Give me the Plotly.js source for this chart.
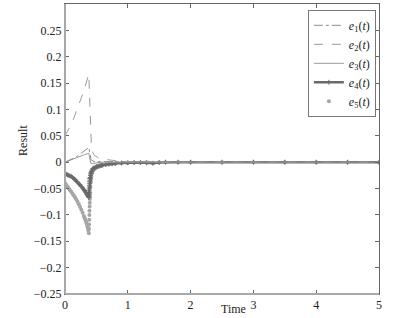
<!DOCTYPE html>
<html>
<head>
<meta charset="utf-8">
<script src="https://cdn.plot.ly/plotly-3.0.1.min.js"></script>
<style>html,body{margin:0;padding:0;background:#fff;}#chart{width:393px;height:318px;}</style>
</head>
<body>
<div id="chart"></div>
<script>
const time = [0,0.02,0.04,0.06,0.08,0.10,0.12,0.14,0.16,0.18,0.20,0.22,0.24,0.26,0.28,0.30,
  0.31,0.32,0.33,0.34,0.35,0.36,0.37,0.38,
  0.382,0.384,0.386,0.388,0.390,0.392,0.394,0.396,0.398,0.400,
  0.405,0.41,0.415,0.42,0.43,0.44,0.45,0.46,0.48,0.50,0.52,0.54,0.56,0.58,0.60,
  0.65,0.70,0.75,0.80,0.90,1.0,1.1,1.2,1.3,1.4,1.5,1.6,1.8,2.0,2.5,3.0,3.5,4.0,4.5,5.0];

const e1 = [0,0.001,0.002,0.003,0.004,0.005,0.006,0.0075,0.009,0.010,0.012,0.013,0.015,0.017,0.019,0.021,
  0.022,0.023,0.024,0.025,0.026,0.027,0.0275,0.028,
  0.026,0.024,0.022,0.020,0.018,0.016,0.0145,0.013,0.0115,0.010,
  0.008,0.006,0.005,0.004,0.003,0.002,0.0018,0.0015,0.001,0.001,0.0005,0.0005,0.0005,0.0005,0.0005,
  0,0,0,0,0,0,0,0,0,0,0,0,0,0,0,0,0,0,0,0];
const e2 = [0.050,0.054,0.058,0.062,0.067,0.072,0.077,0.083,0.089,0.095,0.101,0.108,0.115,0.122,0.129,0.137,
  0.141,0.145,0.149,0.152,0.156,0.160,0.164,0.167,
  0.158,0.150,0.140,0.130,0.120,0.110,0.101,0.092,0.083,0.075,
  0.058,0.045,0.037,0.030,0.022,0.018,0.016,0.014,0.012,0.010,0.009,0.008,0.007,0.0065,0.006,
  0.005,0.004,0.0035,0.003,0.002,0.001,0.0005,0.001,0.002,0.001,0,0,0,0,0,0,0,0,0,0];
const e3 = [0,0.001,0.002,0.003,0.004,0.0045,0.0055,0.0065,0.0075,0.008,0.009,0.010,0.011,0.012,0.013,0.014,
  0.0142,0.0145,0.0148,0.015,0.0155,0.016,0.0165,0.017,
  0.015,0.013,0.011,0.009,0.007,0.005,0.0035,0.002,0.001,0,
  -0.001,-0.002,-0.0025,-0.003,-0.003,-0.0025,-0.0022,-0.002,-0.0015,-0.001,-0.001,-0.0005,-0.0005,0,0,
  0,0,0,0,0,0,0,0,0,0,0,0,0,0,0,0,0,0,0,0];
const e4 = [-0.022,-0.023,-0.024,-0.025,-0.026,-0.027,-0.029,-0.031,-0.033,-0.036,-0.038,-0.041,-0.043,-0.046,-0.049,-0.052,
  -0.0535,-0.055,-0.057,-0.059,-0.061,-0.063,-0.065,-0.067,
  -0.062,-0.058,-0.053,-0.049,-0.045,-0.041,-0.037,-0.034,-0.031,-0.029,
  -0.025,-0.022,-0.020,-0.018,-0.015,-0.013,-0.012,-0.011,-0.0095,-0.0085,-0.008,-0.007,-0.0065,-0.006,-0.0055,
  -0.0045,-0.0035,-0.003,-0.0025,-0.0015,-0.001,-0.0005,-0.0005,-0.001,-0.002,-0.0005,0,0,0,0,0,0,0,0,0];
const e5 = [-0.040,-0.043,-0.046,-0.050,-0.053,-0.056,-0.060,-0.063,-0.067,-0.071,-0.075,-0.080,-0.085,-0.090,-0.096,-0.102,
  -0.105,-0.108,-0.111,-0.115,-0.119,-0.124,-0.129,-0.135,
  -0.126,-0.118,-0.109,-0.100,-0.092,-0.084,-0.077,-0.070,-0.064,-0.058,
  -0.047,-0.038,-0.032,-0.027,-0.021,-0.017,-0.0155,-0.014,-0.012,-0.010,-0.009,-0.008,-0.007,-0.0065,-0.006,
  -0.005,-0.004,-0.0035,-0.003,-0.002,-0.0015,-0.001,-0.001,-0.001,-0.002,-0.0005,0,0,0,0,0,0,0,0,0];

const seriesNames = ['<i>e</i><sub>1</sub>(<i>t</i>)','<i>e</i><sub>2</sub>(<i>t</i>)','<i>e</i><sub>3</sub>(<i>t</i>)','<i>e</i><sub>4</sub>(<i>t</i>)','<i>e</i><sub>5</sub>(<i>t</i>)'];
const yTickVals = [-0.25,-0.2,-0.15,-0.1,-0.05,0,0.05,0.1,0.15,0.2,0.25];
const yTickText = ['\u22120.25','\u22120.2','\u22120.15','\u22120.1','\u22120.05','0','0.05','0.1','0.15','0.2','0.25'];
const xTickVals = [0,1,2,3,4,5];
const xTickText = ['0','1','2','3','4','5'];

const F = 'Liberation Serif, Times New Roman, serif';

const traces = [
  {x: time, y: e5, name: seriesNames[4], legendrank: 5, mode: 'markers', type: 'scatter',
   marker: {symbol: 'circle', size: 4, color: '#a6a6a6', line: {width: 0}}},
  {x: time, y: e4, name: seriesNames[3], legendrank: 4, mode: 'lines+markers', type: 'scatter',
   line: {color: '#6a6a6a', width: 2.5}, marker: {symbol: 'cross-thin', size: 3.5, color: '#6a6a6a', line: {color: '#6a6a6a', width: 1}}},
  {x: time, y: e3, name: seriesNames[2], legendrank: 3, mode: 'lines', type: 'scatter',
   line: {color: '#9a9a9a', width: 1}},
  {x: time, y: e1, name: seriesNames[0], legendrank: 1, mode: 'lines', type: 'scatter',
   line: {color: '#8a8a8a', width: 1, dash: 'dashdot'}},
  {x: time, y: e2, name: seriesNames[1], legendrank: 2, mode: 'lines', type: 'scatter',
   line: {color: '#9a9a9a', width: 1, dash: 'dash'}}
];

const layout = {
  width: 393, height: 318,
  margin: {l: 65, r: 14, t: 4, b: 24, pad: 0},
  paper_bgcolor: '#fff', plot_bgcolor: '#fff',
  font: {family: F, size: 12, color: '#222'},
  showlegend: true,
  legend: {x: 0.99, xanchor: 'right', y: 0.98, yanchor: 'top', bgcolor: '#fff',
    bordercolor: '#777', borderwidth: 1, font: {family: F, size: 12, color: '#222'},
    tracegroupgap: 0, itemwidth: 30},
  xaxis: {range: [0, 5], tickvals: xTickVals, ticktext: xTickText, ticks: 'inside', ticklen: 4,
    tickcolor: '#666', showline: true, linecolor: '#666', linewidth: 1, mirror: 'ticks',
    showgrid: false, zeroline: false, tickfont: {family: F, size: 12, color: '#222'}},
  yaxis: {range: [-0.25, 0.3], tickvals: yTickVals, ticktext: yTickText, ticks: 'inside', ticklen: 4,
    tickcolor: '#666', showline: true, linecolor: '#666', linewidth: 1, mirror: 'ticks',
    showgrid: false, zeroline: false, tickfont: {family: F, size: 12, color: '#222'}},
  shapes: [
    {type: 'line', xref: 'paper', yref: 'paper', x0: 0, x1: 0, y0: 0, y1: 1, line: {color: '#a8a8a8', width: 2}},
    {type: 'line', xref: 'paper', yref: 'paper', x0: 0, x1: 1, y0: 0, y1: 0, line: {color: '#a8a8a8', width: 2}}
  ],
  annotations: [
    {text: 'Result', xref: 'paper', yref: 'paper', x: -0.134, y: 0.531, xanchor: 'center', yanchor: 'middle',
     textangle: -90, showarrow: false, font: {family: F, size: 12, color: '#222'}},
    {text: 'Time', xref: 'paper', yref: 'paper', x: 0.538, y: -0.05, xanchor: 'center', yanchor: 'middle',
     showarrow: false, font: {family: F, size: 12, color: '#222'}}
  ]
};

Plotly.newPlot('chart', traces, layout, {displayModeBar: false, staticPlot: true});
</script>
</body>
</html>
